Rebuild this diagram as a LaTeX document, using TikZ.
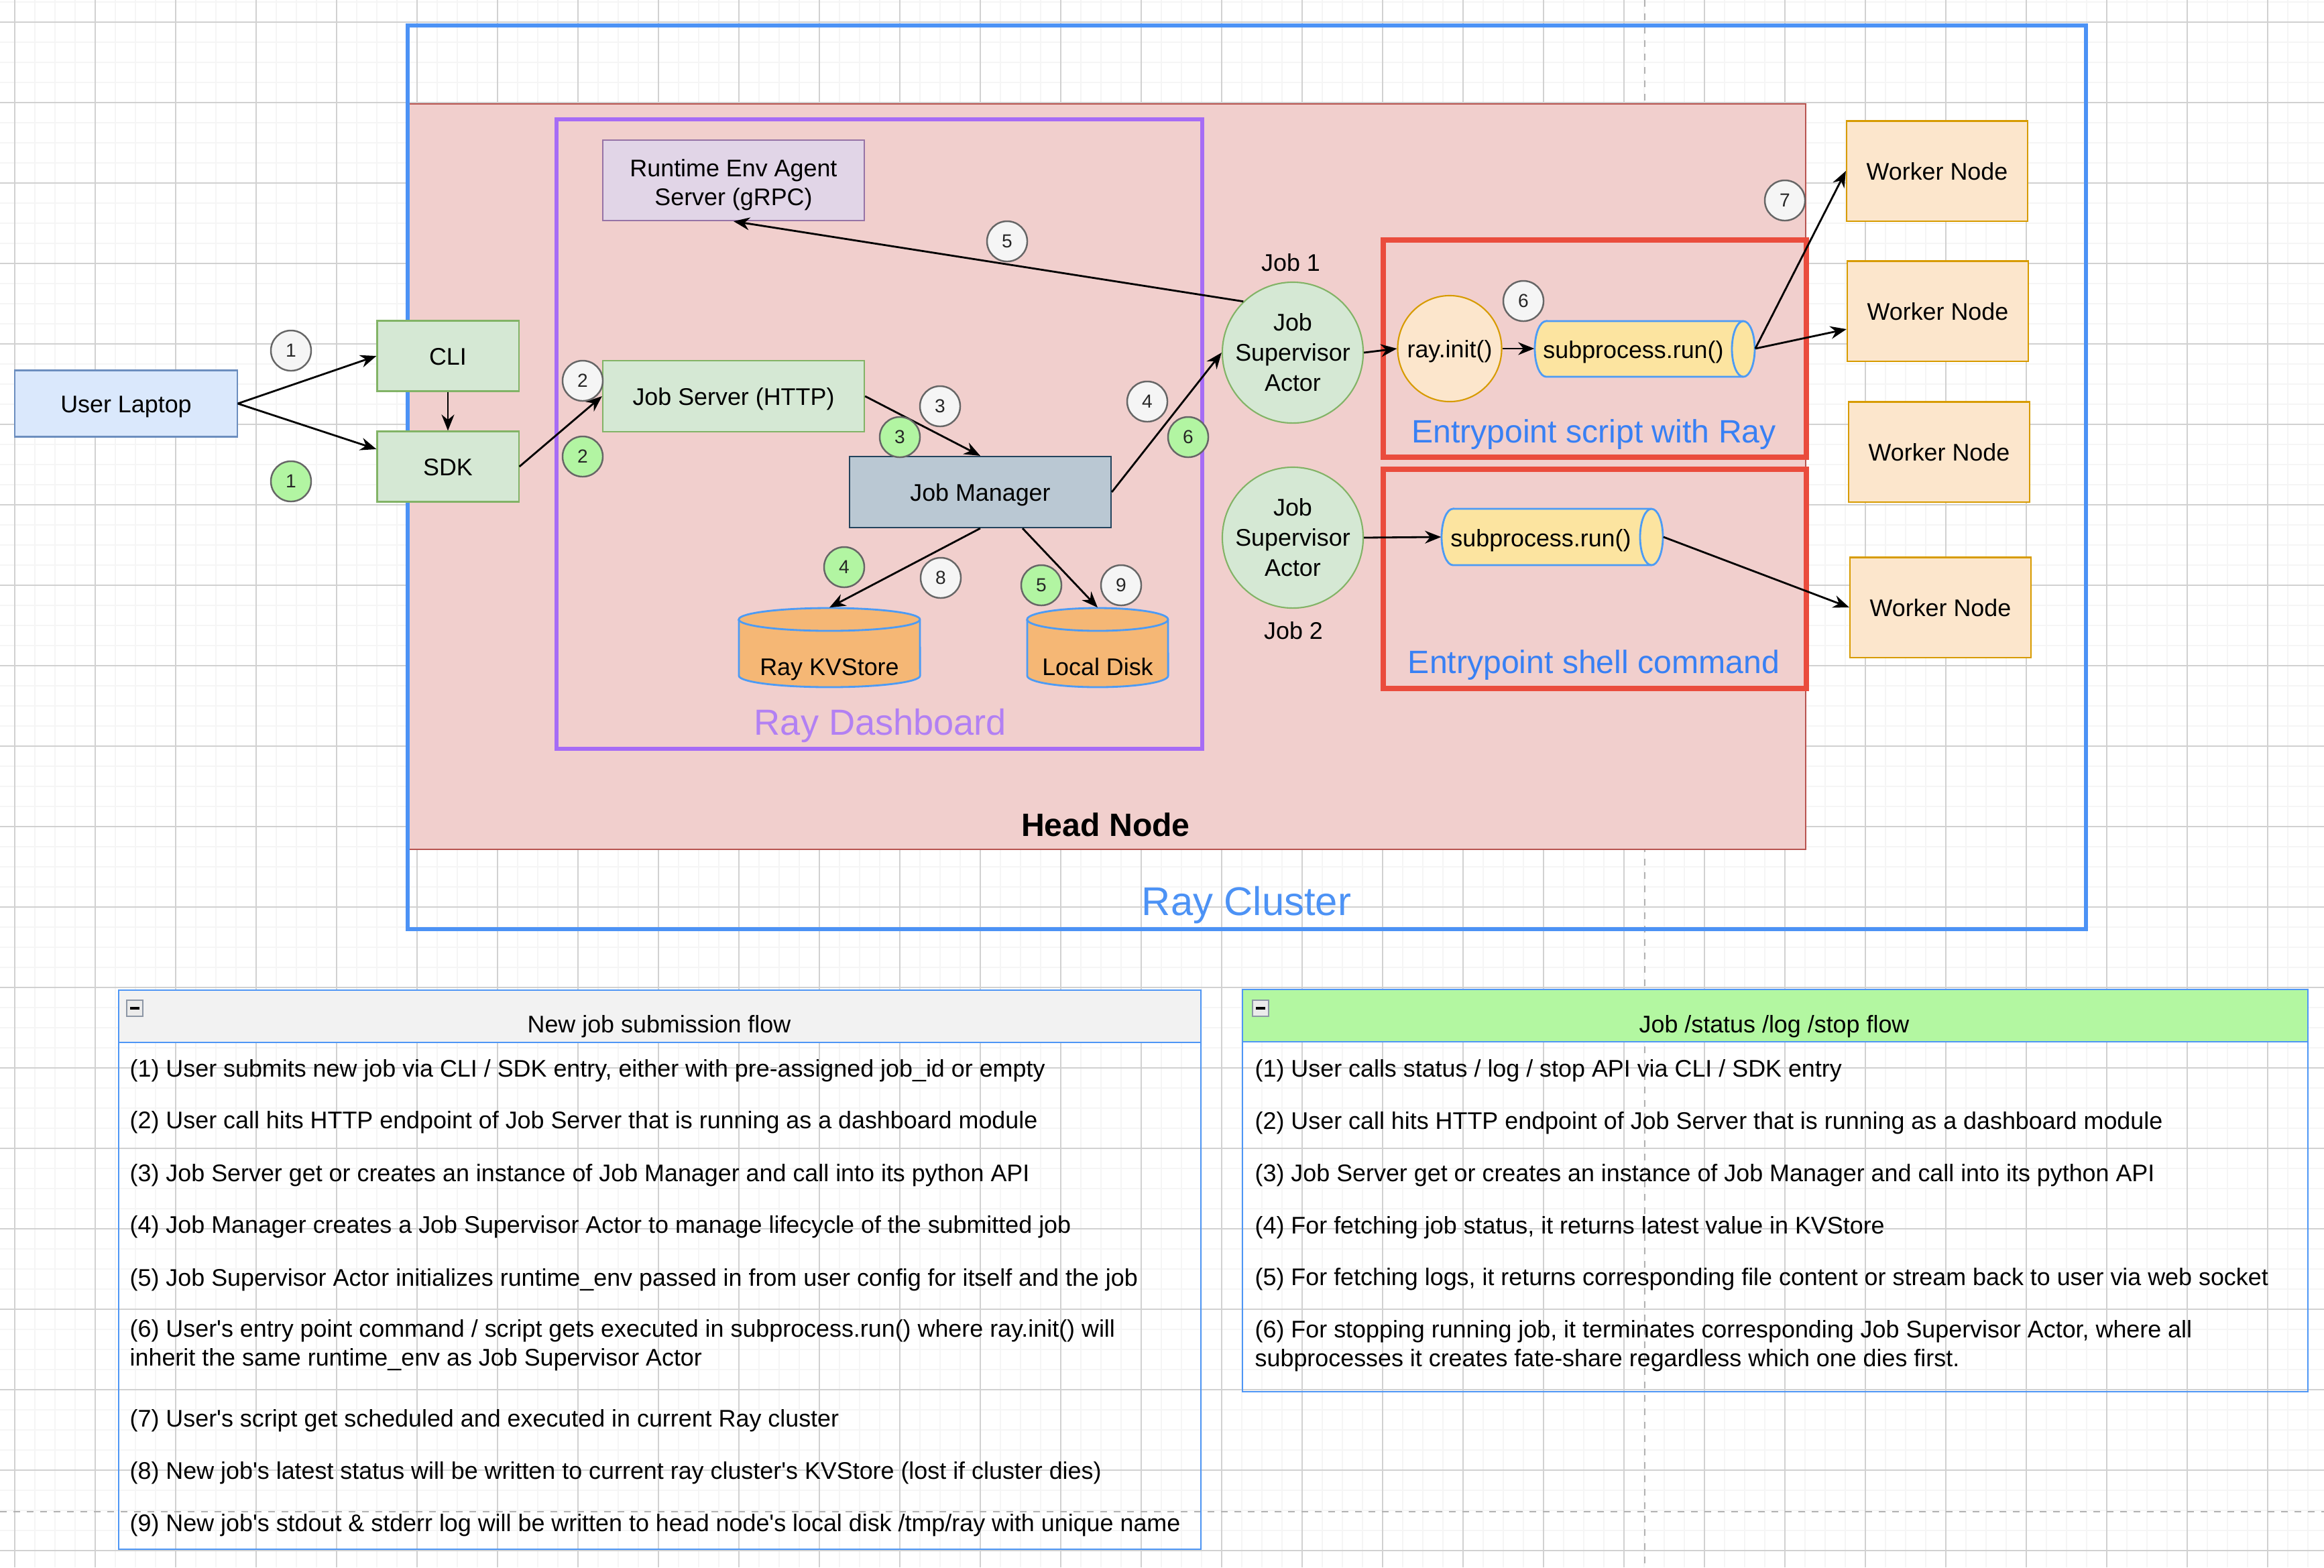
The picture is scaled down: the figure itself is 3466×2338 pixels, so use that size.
\documentclass[tikz,border=0pt]{standalone}
\usepackage{fontspec}
\setmainfont{Liberation Sans}
\usetikzlibrary{arrows.meta,shapes.geometric}

\definecolor{clusterblue}{RGB}{76,146,245}
\definecolor{headfill}{RGB}{241,207,205}
\definecolor{headline}{RGB}{184,84,80}
\definecolor{dashpurple}{RGB}{166,108,245}
\definecolor{dashtext}{RGB}{178,128,243}
\definecolor{entryred}{RGB}{234,76,61}
\definecolor{entrytext}{RGB}{56,128,244}
\definecolor{greenfill}{RGB}{213,232,212}
\definecolor{greenline}{RGB}{130,179,102}
\definecolor{bluefill}{RGB}{218,232,252}
\definecolor{blueline}{RGB}{108,142,191}
\definecolor{purplefill}{RGB}{225,213,231}
\definecolor{purpleline}{RGB}{150,115,166}
\definecolor{greyfill}{RGB}{186,200,211}
\definecolor{greyline}{RGB}{35,68,93}
\definecolor{orangefill}{RGB}{252,230,204}
\definecolor{orangeline}{RGB}{215,155,0}
\definecolor{dbfill}{RGB}{245,183,117}
\definecolor{dbline}{RGB}{76,155,245}
\definecolor{runfill}{RGB}{252,228,160}
\definecolor{badgegreen}{RGB}{178,245,162}
\definecolor{badgewhite}{RGB}{245,245,245}
\definecolor{headergreen}{RGB}{179,247,161}
\definecolor{tableline}{RGB}{78,150,245}
\definecolor{iconline}{RGB}{140,150,165}

\begin{document}
\begin{tikzpicture}[x=0.01cm, y=-0.01cm,
    >={Stealth[length=0.24cm,width=0.19cm]},
    every node/.style={font=\fontsize{10.2}{12.3}\selectfont},
    oneline/.style={text height=0.27cm, text depth=0.01cm},
    box/.style={draw, line width=0.6pt, inner sep=0pt, align=center},
    greenbox/.style={box, oneline, fill=greenfill, draw=greenline},
    worker/.style={box, oneline, fill=orangefill, draw=orangeline, minimum width=2.7cm, minimum height=1.49cm},
    actor/.style={circle, draw=greenline, fill=greenfill, line width=0.6pt, minimum size=2.1cm,
        inner sep=0pt, align=center, font=\fontsize{10.2}{12.8}\selectfont},
    badge/.style={circle, draw=black!60, line width=0.7pt, minimum size=0.6cm, inner sep=0pt,
        text=black!85, font=\fontsize{8}{9}\selectfont},
    wbadge/.style={badge, fill=badgewhite},
    gbadge/.style={badge, fill=badgegreen},
    link/.style={->, line width=0.8pt},
    spot/.style={inner sep=0pt},
    item/.style={anchor=west, inner sep=0pt, align=left}]

    % page and grid
    \fill[white] (0,0) rectangle (3466,2338);
    \useasboundingbox (0,0) rectangle (3466,2338);
    \foreach \gx in {22,52,...,3466} \draw[black!4, line width=0.6pt] (\gx,0) -- (\gx,2338);
    \foreach \gy in {3,33,...,2338} \draw[black!4, line width=0.6pt] (0,\gy) -- (3466,\gy);
    \foreach \gx in {22,142,...,3466} \draw[black!18, line width=0.4pt] (\gx,0) -- (\gx,2338);
    \foreach \gy in {33,153,...,2338} \draw[black!18, line width=0.4pt] (0,\gy) -- (3466,\gy);
    \draw[black!30, dash pattern=on 0.1cm off 0.1cm, line width=0.6pt] (2453,0) -- (2453,2338);
    \draw[black!30, dash pattern=on 0.1cm off 0.1cm, line width=0.6pt] (0,2255) -- (3466,2255);

    % containers
    \draw[fill=headfill, draw=headline, line width=0.6pt] (608,155) rectangle (2693,1267);
    \draw[clusterblue, line width=1.9pt] (608,38) rectangle (3111,1386);
    \draw[dashpurple, line width=1.9pt] (830,178) rectangle (1793,1117);
    \draw[entryred, line width=2.3pt] (2063,358) rectangle (2694,682);
    \draw[entryred, line width=2.3pt] (2063,700) rectangle (2694,1027);

    % client side
    \node[box, oneline, fill=bluefill, draw=blueline, minimum width=3.31cm, minimum height=0.99cm] (laptop) at (188,602) {User Laptop};
    \node[greenbox, minimum width=2.11cm, minimum height=1.05cm] (cli) at (668,531) {CLI};
    \node[greenbox, minimum width=2.11cm, minimum height=1.05cm] (sdk) at (668,696) {SDK};

    % dashboard
    \node[box, fill=purplefill, draw=purpleline, minimum width=3.9cm, minimum height=1.2cm] (runtime) at (1094,269) {};
    \node[align=center, inner sep=0pt] (runtimelabel) at (1094,276) {Runtime Env Agent\\Server (gRPC)};
    \node[greenbox, minimum width=3.9cm, minimum height=1.06cm] (jobserver) at (1094,591) {Job Server (HTTP)};
    \node[box, oneline, fill=greyfill, draw=greyline, minimum width=3.9cm, minimum height=1.06cm] (jobmgr) at (1462,734) {Job Manager};

    \draw[fill=dbfill, draw=dbline, line width=0.8pt] (1102,924) -- (1102,1008)
        arc[start angle=180, end angle=360, x radius=1.35cm, y radius=0.17cm] -- (1372,924)
        arc[start angle=0, end angle=180, x radius=1.35cm, y radius=0.17cm] -- cycle;
    \draw[dbline, line width=0.8pt] (1372,924) arc[start angle=0, end angle=-180, x radius=1.35cm, y radius=0.17cm];
    \node[spot, minimum width=2.7cm, minimum height=1.18cm] (kv) at (1237,966) {};
    \node[oneline] (kvlabel) at (1237,994) {Ray KVStore};

    \draw[fill=dbfill, draw=dbline, line width=0.8pt] (1532,924) -- (1532,1008)
        arc[start angle=180, end angle=360, x radius=1.05cm, y radius=0.17cm] -- (1742,924)
        arc[start angle=0, end angle=180, x radius=1.05cm, y radius=0.17cm] -- cycle;
    \draw[dbline, line width=0.8pt] (1742,924) arc[start angle=0, end angle=-180, x radius=1.05cm, y radius=0.17cm];
    \node[spot, minimum width=2.1cm, minimum height=1.18cm] (disk) at (1637,966) {};
    \node[oneline] (disklabel) at (1637,994) {Local Disk};

    % job supervisors
    \node[actor] (jsa1) at (1928,526) {Job\\Supervisor\\Actor};
    \node[actor] (jsa2) at (1928,802) {Job\\Supervisor\\Actor};
    \node[oneline] (job1) at (1925,391) {Job 1};
    \node[oneline] (job2) at (1929,940) {Job 2};

    % entrypoints
    \node[ellipse, oneline, draw=orangeline, fill=orangefill, line width=0.6pt, minimum width=1.55cm, minimum height=1.58cm, inner sep=0pt] (rayinit) at (2162,520) {\makebox[1cm]{ray.init()}};

    \draw[fill=runfill, draw=dbline, line width=0.8pt] (2306,479) -- (2600,479)
        arc[start angle=90, end angle=-90, x radius=0.17cm, y radius=0.415cm] -- (2306,562)
        arc[start angle=270, end angle=90, x radius=0.17cm, y radius=0.415cm] -- cycle;
    \draw[dbline, line width=0.8pt] (2600,479) arc[start angle=90, end angle=270, x radius=0.17cm, y radius=0.415cm];
    \node[spot, minimum width=3.28cm, minimum height=0.83cm] (sp1) at (2453,520) {};
    \node[oneline] (sp1label) at (2436,521) {subprocess.run()};

    \draw[fill=runfill, draw=dbline, line width=0.8pt] (2167,759) -- (2463,759)
        arc[start angle=90, end angle=-90, x radius=0.17cm, y radius=0.42cm] -- (2167,843)
        arc[start angle=270, end angle=90, x radius=0.17cm, y radius=0.42cm] -- cycle;
    \draw[dbline, line width=0.8pt] (2463,759) arc[start angle=90, end angle=270, x radius=0.17cm, y radius=0.42cm];
    \node[spot, minimum width=3.3cm, minimum height=0.84cm] (sp2) at (2315,801) {};
    \node[oneline] (sp2label) at (2298,802) {subprocess.run()};

    % workers
    \node[worker] (wn1) at (2889,255) {Worker Node};
    \node[worker] (wn2) at (2890,464) {Worker Node};
    \node[worker] (wn3) at (2892,674) {Worker Node};
    \node[worker] (wn4) at (2894,906) {Worker Node};

    % connectors
    \draw[link] (laptop.east) -- (cli.west);
    \draw[link] (laptop.east) -- ([yshift=0.26cm]sdk.west);
    \draw[link] (cli.south) -- (sdk.north);
    \draw[link] (sdk.east) -- (jobserver.west);
    \draw[link] (jobserver.east) -- (jobmgr.north);
    \draw[link] (jobmgr.east) -- (jsa1.west);
    \draw[link] (jsa1.134) -- (runtime.south);
    \draw[link] (jobmgr.south) -- (kv.north);
    \draw[link] ([xshift=0.63cm]jobmgr.south) -- (disk.north);
    \draw[link] (jsa1.east) -- (rayinit.west);
    \draw[link] (rayinit.east) -- (sp1.west);
    \draw[link] (sp1.east) -- (wn1.west);
    \draw[link] (sp1.east) -- ([yshift=-0.27cm]wn2.west);
    \draw[link] (jsa2.east) -- (sp2.west);
    \draw[link] (sp2.east) -- (wn4.west);

    % step badges
    \node[wbadge] (w1) at (434,523) {1};
    \node[gbadge] (g1) at (434,718) {1};
    \node[wbadge] (w2) at (869,568) {2};
    \node[gbadge] (g2) at (869,681) {2};
    \node[wbadge] (w3) at (1402,606) {3};
    \node[gbadge] (g3) at (1342,652) {3};
    \node[wbadge] (w4) at (1711,599) {4};
    \node[gbadge] (g6) at (1772,652) {6};
    \node[wbadge] (w5) at (1502,360) {5};
    \node[gbadge] (g4) at (1259,846) {4};
    \node[wbadge] (w8) at (1403,862) {8};
    \node[gbadge] (g5) at (1553,873) {5};
    \node[wbadge] (w9) at (1672,873) {9};
    \node[wbadge] (w6) at (2272,449) {6};
    \node[wbadge] (w7) at (2662,299) {7};

    % container labels
    \node[text=clusterblue, font=\fontsize{17}{20}\selectfont] (clusterlabel) at (1859,1350) {Ray Cluster};
    \node[font=\bfseries\fontsize{13.7}{16}\selectfont] (headlabel) at (1649,1230) {Head Node};
    \node[text=dashtext, font=\fontsize{15.4}{18}\selectfont] (dashlabel) at (1313,1082) {Ray Dashboard};
    \node[text=entrytext, font=\fontsize{13.7}{16}\selectfont] (scriptlabel) at (2377,648) {Entrypoint script with Ray};
    \node[text=entrytext, font=\fontsize{13.7}{16}\selectfont] (shelllabel) at (2377,992) {Entrypoint shell command};

    % new job submission flow
    \fill[black!5] (177,1477) rectangle (1791,1555);
    \draw[tableline, line width=0.8pt] (177,1477) rectangle (1791,2311);
    \draw[tableline, line width=0.8pt] (177,1555) -- (1791,1555);
    \draw[fill=black!8, draw=iconline, line width=0.8pt] (189,1492) rectangle (213,1516);
    \draw[line width=1pt] (194,1504) -- (208,1504);
    \node[oneline] (submittitle) at (983,1527) {New job submission flow};
    \node[item] (s1) at (193,1597) {(1) User submits new job via CLI / SDK entry, either with pre-assigned job\_id or empty};
    \node[item] (s2) at (193,1674) {(2) User call hits HTTP endpoint of Job Server that is running as a dashboard module};
    \node[item] (s3) at (193,1753) {(3) Job Server get or creates an instance of Job Manager and call into its python API};
    \node[item] (s4) at (193,1830) {(4) Job Manager creates a Job Supervisor Actor to manage lifecycle of the submitted job};
    \node[item] (s5) at (193,1909) {(5) Job Supervisor Actor initializes runtime\_env passed in from user config for itself and the job};
    \node[item] (s6) at (193,2007) {(6) User\textquotesingle s entry point command / script gets executed in subprocess.run() where ray.init() will\\inherit the same runtime\_env as Job Supervisor Actor};
    \node[item] (s7) at (193,2119) {(7) User\textquotesingle s script get scheduled and executed in current Ray cluster};
    \node[item] (s8) at (193,2197) {(8) New job\textquotesingle s latest status will be written to current ray cluster\textquotesingle s KVStore (lost if cluster dies)};
    \node[item] (s9) at (193,2275) {(9) New job\textquotesingle s stdout \& stderr log will be written to head node\textquotesingle s local disk /tmp/ray with unique name};

    % status / log / stop flow
    \fill[headergreen] (1853,1476) rectangle (3442,1554);
    \draw[tableline, line width=0.8pt] (1853,1476) rectangle (3442,2076);
    \draw[tableline, line width=0.8pt] (1853,1554) -- (3442,1554);
    \draw[fill=black!8, draw=iconline, line width=0.8pt] (1868,1492) rectangle (1892,1516);
    \draw[line width=1pt] (1873,1504) -- (1887,1504);
    \node[oneline] (statustitle) at (2646,1527) {Job /status /log /stop flow};
    \node[item] (t1) at (1871,1597) {(1) User calls status / log / stop API via CLI / SDK entry};
    \node[item] (t2) at (1871,1675) {(2) User call hits HTTP endpoint of Job Server that is running as a dashboard module};
    \node[item] (t3) at (1871,1753) {(3) Job Server get or creates an instance of Job Manager and call into its python API};
    \node[item] (t4) at (1871,1831) {(4) For fetching job status, it returns latest value in KVStore};
    \node[item] (t5) at (1871,1908) {(5) For fetching logs, it returns corresponding file content or stream back to user via web socket};
    \node[item] (t6) at (1871,2008) {(6) For stopping running job, it terminates corresponding Job Supervisor Actor, where all\\subprocesses it creates fate-share regardless which one dies first.};
\end{tikzpicture}
\end{document}
